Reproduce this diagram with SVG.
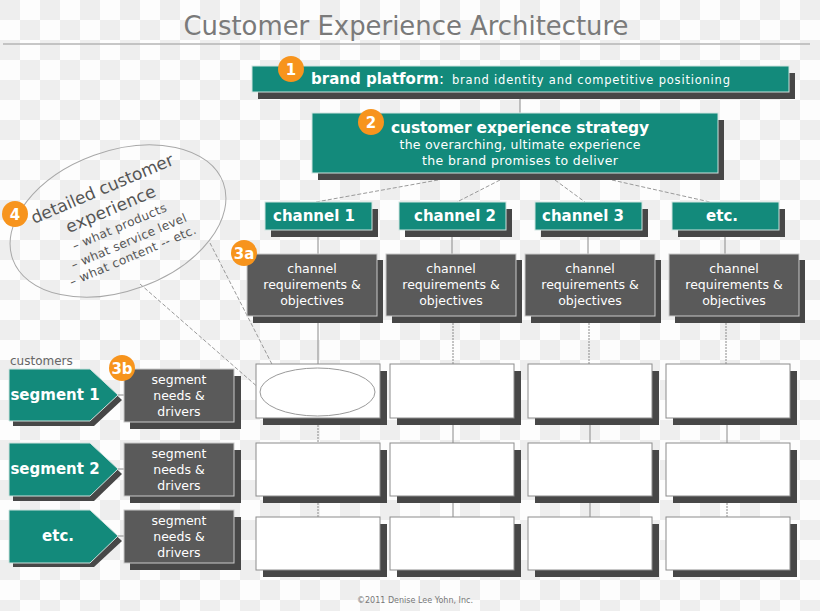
<svg xmlns="http://www.w3.org/2000/svg" width="820" height="611" viewBox="0 0 820 611">
<defs>
<pattern id="chk" width="40" height="40" patternUnits="userSpaceOnUse">
<rect width="40" height="40" fill="#fdfdfd"/>
<rect width="20" height="20" fill="#eeeeee"/>
<rect x="20" y="20" width="20" height="20" fill="#eeeeee"/>
</pattern>
<style>
text{font-family:"DejaVu Sans","Liberation Sans",sans-serif}
.teal{fill:#138a7b;stroke:#cfe3df;stroke-width:1}
.dark{fill:#5a5a5a;stroke:#c9c9c9;stroke-width:1}
.shd{fill:#474747}
.wbox{fill:#fff;stroke:#8c8c8c;stroke-width:1}
.badge{fill:#f7941d}
.bt{fill:#fff;font-weight:bold;font-size:15px;text-anchor:middle}
.wt{fill:#fff;text-anchor:middle}
.b{font-weight:bold}
.con{stroke:#8a8a8a;stroke-width:1;fill:none}
.dash{stroke:#9a9a9a;stroke-width:1;fill:none;stroke-dasharray:4 2}
</style>
</defs>
<rect width="820" height="611" fill="url(#chk)"/>

<g id="title">
<text x="406" y="35" font-size="27" fill="#7a7a7a" text-anchor="middle" textLength="445" lengthAdjust="spacingAndGlyphs">Customer Experience Architecture</text>
<line x1="3" y1="44" x2="810" y2="44" stroke="#b5b5b5" stroke-width="1.5"/>
</g>

<g id="connectors">
<line class="con" x1="520" y1="99" x2="520" y2="113"/>
<line class="dash" x1="438" y1="180" x2="316" y2="202"/>
<line class="dash" x1="500" y1="180" x2="457" y2="202"/>
<line class="dash" x1="555" y1="180" x2="585" y2="202"/>
<line class="dash" x1="612" y1="180" x2="710" y2="202"/>
<line class="con" x1="318" y1="237" x2="318" y2="254"/>
<line class="con" x1="452" y1="237" x2="452" y2="254"/>
<line class="con" x1="588" y1="237" x2="588" y2="254"/>
<line class="con" x1="725" y1="237" x2="725" y2="254"/>
<line class="con" x1="318" y1="323" x2="318" y2="364"/>
<line class="con" x1="453" y1="323" x2="453" y2="364" stroke-dasharray="2 1"/>
<line class="con" x1="589" y1="323" x2="589" y2="364" stroke-dasharray="2 1"/>
<line class="con" x1="726" y1="323" x2="726" y2="364" stroke-dasharray="2 1"/>
<line class="con" x1="318" y1="425" x2="318" y2="443" stroke-dasharray="2 1"/>
<line class="con" x1="453" y1="425" x2="453" y2="443"/>
<line class="con" x1="590" y1="425" x2="590" y2="443"/>
<line class="con" x1="727" y1="425" x2="727" y2="443"/>
<line class="con" x1="318" y1="503" x2="318" y2="517" stroke-dasharray="2 1"/>
<line class="con" x1="453" y1="503" x2="453" y2="517"/>
<line class="con" x1="590" y1="503" x2="590" y2="517"/>
<line class="con" x1="727" y1="503" x2="727" y2="517" stroke-dasharray="2 1"/>
<line class="con" x1="118" y1="395" x2="124" y2="395"/>
<line class="con" x1="118" y1="469" x2="124" y2="469"/>
<line class="con" x1="118" y1="536" x2="124" y2="536"/>
<line class="dash" x1="210" y1="243" x2="278" y2="376"/>
<line class="dash" x1="140" y1="284" x2="260" y2="389"/>
</g>

<g id="brand-platform">
<rect class="shd" x="258" y="73" width="537" height="26"/>
<rect class="teal" x="252" y="66" width="537" height="26"/>
<text x="311" y="84" fill="#fff"><tspan class="b" font-size="15">brand platform</tspan><tspan font-size="15">:</tspan><tspan font-size="11.5" dx="8" textLength="278">brand identity and competitive positioning</tspan></text>
</g>
<g id="badge-1"><circle class="badge" cx="291" cy="69" r="13"/><text class="bt" x="291" y="75">1</text></g>

<g id="cx-strategy">
<rect class="shd" x="318" y="120" width="406" height="60"/>
<rect class="teal" x="312" y="113" width="406" height="60"/>
<text class="wt b" x="520" y="133" font-size="15.5" textLength="258">customer experience  strategy</text>
<text class="wt" x="520" y="149" font-size="12.5" textLength="241">the overarching, ultimate experience</text>
<text class="wt" x="520" y="165" font-size="12.5" textLength="196">the brand promises to deliver</text>
</g>
<g id="badge-2"><circle class="badge" cx="371" cy="122" r="13"/><text class="bt" x="371" y="128">2</text></g>

<g id="channel-1"><rect class="shd" x="271" y="209" width="107" height="28"/><rect class="teal" x="265" y="202" width="107" height="28"/><text class="bt" x="314" y="221" font-size="14">channel 1</text></g>
<g id="channel-2"><rect class="shd" x="405" y="209" width="107" height="28"/><rect class="teal" x="399" y="202" width="107" height="28"/><text class="bt" x="455" y="221" font-size="14">channel 2</text></g>
<g id="channel-3"><rect class="shd" x="541" y="209" width="107" height="28"/><rect class="teal" x="535" y="202" width="107" height="28"/><text class="bt" x="583" y="221" font-size="14">channel 3</text></g>
<g id="channel-etc"><rect class="shd" x="678" y="209" width="107" height="28"/><rect class="teal" x="672" y="202" width="107" height="28"/><text class="bt" x="722" y="221" font-size="14">etc.</text></g>

<g id="req-1"><rect class="shd" x="253" y="260" width="130" height="63"/><rect class="dark" x="247" y="254" width="130" height="62"/>
<text class="wt" font-size="12.5" x="312" y="273">channel</text><text class="wt" font-size="12.5" x="312" y="289">requirements &amp;</text><text class="wt" font-size="12.5" x="312" y="305">objectives</text></g>
<g id="req-2"><rect class="shd" x="392" y="260" width="130" height="63"/><rect class="dark" x="386" y="254" width="130" height="62"/>
<text class="wt" font-size="12.5" x="451" y="273">channel</text><text class="wt" font-size="12.5" x="451" y="289">requirements &amp;</text><text class="wt" font-size="12.5" x="451" y="305">objectives</text></g>
<g id="req-3"><rect class="shd" x="531" y="260" width="130" height="63"/><rect class="dark" x="525" y="254" width="130" height="62"/>
<text class="wt" font-size="12.5" x="590" y="273">channel</text><text class="wt" font-size="12.5" x="590" y="289">requirements &amp;</text><text class="wt" font-size="12.5" x="590" y="305">objectives</text></g>
<g id="req-4"><rect class="shd" x="675" y="260" width="130" height="63"/><rect class="dark" x="669" y="254" width="130" height="62"/>
<text class="wt" font-size="12.5" x="734" y="273">channel</text><text class="wt" font-size="12.5" x="734" y="289">requirements &amp;</text><text class="wt" font-size="12.5" x="734" y="305">objectives</text></g>
<g id="badge-3a"><circle class="badge" cx="244" cy="253" r="13"/><text class="bt" x="244" y="259">3a</text></g>

<g id="detailed-cx">
<ellipse cx="118" cy="221" rx="112" ry="70" transform="rotate(-20 118 221)" fill="none" stroke="#a8a8a8" stroke-width="1"/>
<g transform="translate(118 221) rotate(-23)" fill="#555" text-anchor="middle">
<text x="-2" y="-30" font-size="17" textLength="153">detailed customer</text>
<text x="-2" y="-8" font-size="17" textLength="96">experience</text>
<text x="-1" y="10" font-size="12" textLength="101">– what products</text>
<text x="2" y="27" font-size="12" textLength="124">– what service level</text>
<text x="0" y="42" font-size="12" textLength="136">– what content  -- etc.</text>
</g>
</g>
<g id="badge-4"><circle class="badge" cx="15" cy="214" r="13"/><text class="bt" x="15" y="220">4</text></g>

<g id="customers-label"><text x="10" y="365" font-size="12" fill="#666">customers</text></g>

<g id="segment-1"><polygon class="shd" points="13,374 94,374 122,400 94,426 13,426"/><polygon class="teal" points="9,369 90,369 118,395 90,421 9,421"/><text class="bt" x="55" y="400" font-size="14">segment 1</text></g>
<g id="segment-2"><polygon class="shd" points="13,448 94,448 122,474 94,501 13,501"/><polygon class="teal" points="9,443 90,443 118,469 90,496 9,496"/><text class="bt" x="55" y="474" font-size="14">segment 2</text></g>
<g id="segment-etc"><polygon class="shd" points="13,515 94,515 122,541 94,567 13,567"/><polygon class="teal" points="9,510 90,510 118,536 90,563 9,563"/><text class="bt" x="58" y="541" font-size="14">etc.</text></g>

<g id="needs-1"><rect class="shd" x="130" y="376" width="111" height="53"/><rect class="dark" x="124" y="369" width="110" height="53"/>
<text class="wt" font-size="12.5" x="179" y="384">segment</text><text class="wt" font-size="12.5" x="179" y="400">needs &amp;</text><text class="wt" font-size="12.5" x="179" y="416">drivers</text></g>
<g id="needs-2"><rect class="shd" x="130" y="450" width="111" height="53"/><rect class="dark" x="124" y="443" width="110" height="53"/>
<text class="wt" font-size="12.5" x="179" y="458">segment</text><text class="wt" font-size="12.5" x="179" y="474">needs &amp;</text><text class="wt" font-size="12.5" x="179" y="490">drivers</text></g>
<g id="needs-3"><rect class="shd" x="130" y="517" width="111" height="53"/><rect class="dark" x="124" y="510" width="110" height="53"/>
<text class="wt" font-size="12.5" x="179" y="525">segment</text><text class="wt" font-size="12.5" x="179" y="541">needs &amp;</text><text class="wt" font-size="12.5" x="179" y="557">drivers</text></g>
<g id="badge-3b"><circle class="badge" cx="122" cy="368" r="13"/><text class="bt" x="122" y="374">3b</text></g>

<g id="cell-1-1"><rect class="shd" x="263" y="371" width="124" height="54"/><rect class="wbox" x="256" y="364" width="124" height="54"/><ellipse cx="317.5" cy="392" rx="57.5" ry="24" fill="#fff" stroke="#9a9a9a"/></g>
<g id="cell-1-2"><rect class="shd" x="397" y="371" width="124" height="54"/><rect class="wbox" x="390" y="364" width="124" height="54"/></g>
<g id="cell-1-3"><rect class="shd" x="535" y="371" width="124" height="54"/><rect class="wbox" x="528" y="364" width="124" height="54"/></g>
<g id="cell-1-4"><rect class="shd" x="673" y="371" width="124" height="54"/><rect class="wbox" x="666" y="364" width="124" height="54"/></g>
<g id="cell-2-1"><rect class="shd" x="263" y="450" width="124" height="53"/><rect class="wbox" x="256" y="443" width="124" height="53"/></g>
<g id="cell-2-2"><rect class="shd" x="397" y="450" width="124" height="53"/><rect class="wbox" x="390" y="443" width="124" height="53"/></g>
<g id="cell-2-3"><rect class="shd" x="535" y="450" width="124" height="53"/><rect class="wbox" x="528" y="443" width="124" height="53"/></g>
<g id="cell-2-4"><rect class="shd" x="673" y="450" width="124" height="53"/><rect class="wbox" x="666" y="443" width="124" height="53"/></g>
<g id="cell-3-1"><rect class="shd" x="263" y="524" width="124" height="53"/><rect class="wbox" x="256" y="517" width="124" height="53"/></g>
<g id="cell-3-2"><rect class="shd" x="397" y="524" width="124" height="53"/><rect class="wbox" x="390" y="517" width="124" height="53"/></g>
<g id="cell-3-3"><rect class="shd" x="535" y="524" width="124" height="53"/><rect class="wbox" x="528" y="517" width="124" height="53"/></g>
<g id="cell-3-4"><rect class="shd" x="673" y="524" width="124" height="53"/><rect class="wbox" x="666" y="517" width="124" height="53"/></g>

<g id="copyright"><text x="415" y="603" font-size="8" fill="#777" text-anchor="middle">©2011 Denise Lee Yohn, Inc.</text></g>
</svg>
